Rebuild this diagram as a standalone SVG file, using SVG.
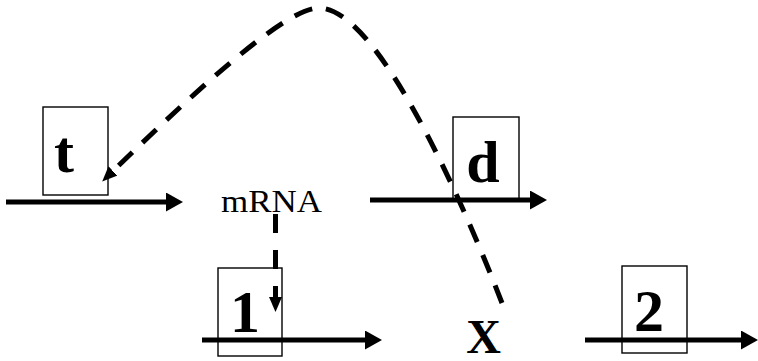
<svg xmlns="http://www.w3.org/2000/svg" width="758" height="361" viewBox="0 0 758 361">
  <style>
    .box { fill: none; stroke: #000; stroke-width: 1.4; }
    .lbl { font-family: "Liberation Serif", "Times New Roman", serif; font-weight: bold; fill: #000; text-anchor: middle; }
    .sm { font-family: "Liberation Serif", "Times New Roman", serif; font-size: 32px; fill: #000; }
    .solid { fill: none; stroke: #000; stroke-width: 5; }
    .dash { fill: none; stroke: #000; stroke-width: 5; stroke-dasharray: 19 14; }
  </style>
  <defs>
    <marker id="ah" markerUnits="userSpaceOnUse" markerWidth="18" markerHeight="20" refX="0" refY="9.5" orient="auto">
      <path d="M0,0 L17,9.5 L0,19 Z" fill="#000"/>
    </marker>
    <marker id="ahs" markerUnits="userSpaceOnUse" markerWidth="16" markerHeight="14" refX="0" refY="6.5" orient="auto">
      <path d="M0,0 L15,6.5 L0,13 Z" fill="#000"/>
    </marker>
  </defs>
  <rect width="758" height="361" fill="#fff"/>

  <g id="node-t">
    <rect class="box" x="43" y="107" width="65" height="88"/>
    <text class="lbl" x="64" y="172" font-size="60">t</text>
  </g>
  <g id="node-d">
    <rect class="box" x="453" y="117" width="66" height="84"/>
    <text class="lbl" x="483" y="182" font-size="60">d</text>
  </g>
  <g id="node-mRNA">
    <text class="sm" x="221" y="212" textLength="101" lengthAdjust="spacingAndGlyphs">mRNA</text>
  </g>
  <g id="node-1">
    <rect class="box" x="218" y="268" width="64" height="88"/>
    <text class="lbl" x="245" y="332" font-size="60">1</text>
  </g>
  <g id="node-X">
    <text class="lbl" x="483.5" y="353" font-size="48">X</text>
  </g>
  <g id="node-2">
    <rect class="box" x="622" y="266" width="65" height="87"/>
    <text class="lbl" x="649" y="331" font-size="60">2</text>
  </g>

  <g id="connectors">
    <line class="solid" x1="6" y1="202" x2="166" y2="202" marker-end="url(#ah)"/>
    <line class="solid" x1="370" y1="200" x2="530" y2="200" marker-end="url(#ah)"/>
    <line class="solid" x1="202" y1="340" x2="365" y2="340" marker-end="url(#ah)"/>
    <line class="solid" x1="585" y1="340" x2="741" y2="340" marker-end="url(#ah)"/>
    <path class="dash" style="stroke-dasharray: 19 17" d="M275.5,214 L275.5,297" marker-end="url(#ahs)"/>
    <path class="dash" d="M502,303 C470,220 380,6 318,8 C280,9 168,118 113,171" marker-end="url(#ahs)"/>
  </g>
</svg>
